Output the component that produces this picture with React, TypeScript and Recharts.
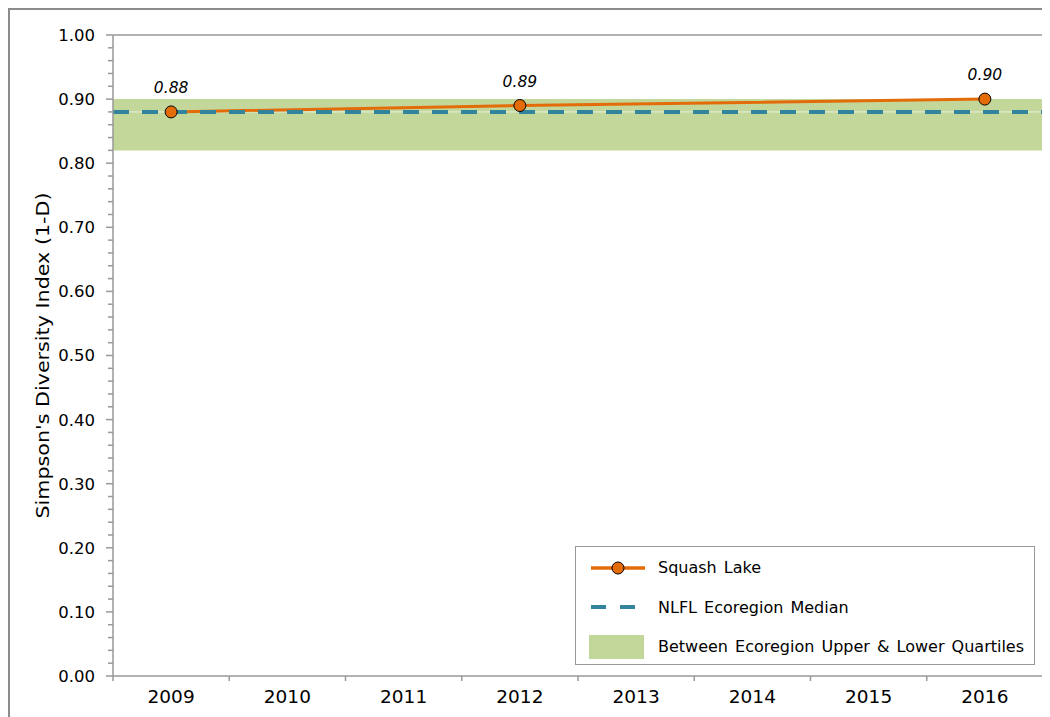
import React from 'react';
import {
  ComposedChart, Line, XAxis, YAxis, ReferenceArea, ReferenceLine, LabelList, Legend,
} from 'recharts';

const years = ['2009', '2010', '2011', '2012', '2013', '2014', '2015', '2016'];
const squashLake = [0.88, null, null, 0.89, null, null, null, 0.9];
const ecoMedian = 0.88;
const ecoLowerQuartile = 0.82;
const ecoUpperQuartile = 0.9;

const ORANGE = '#e36c09';
const TEAL = '#31849b';
const BAND = '#c4d79b';
const AXIS = '#999999';
const FONT = '"DejaVu Sans", Verdana, sans-serif';

const W = 1036;
const H = 710;
const MARGIN = { top: 25, right: 3, bottom: 4, left: 28 };
const Y_AXIS_W = 75;
const PLOT_W = W - MARGIN.left - MARGIN.right - Y_AXIS_W;
const BAND_W = PLOT_W / years.length;
const Y_TICK_SIZE = 7;
const Y_TICK_MARGIN = 11;

const data = years.map((year, i) => ({ x: i + 0.5, year, squash: squashLake[i] }));
const yAllTicks = Array.from({ length: 51 }, (_, i) => Math.round(i * 2) / 100);
const xTicks = years.map((_, i) => i).concat([years.length]);

const YTick = (props: any) => {
  const { x, y, payload } = props;
  const axisX = x + Y_TICK_SIZE + Y_TICK_MARGIN;
  const v = payload.value;
  const major = Math.round(v * 100) % 10 === 0;
  return (
    <g>
      <line x1={axisX - (major ? 7 : 5)} x2={axisX} y1={y} y2={y} stroke={AXIS} strokeWidth={1.5} />
      {major && (
        <text x={x} y={y} dy="0.36em" textAnchor="end" fontSize={16.5} fill="#000" fontFamily={FONT}>
          {v.toFixed(2)}
        </text>
      )}
    </g>
  );
};

const XTick = (props: any) => {
  const { x, y, index } = props;
  if (index >= years.length) return <g />;
  return (
    <text x={x + BAND_W / 2} y={y} dy="0.75em" textAnchor="middle" fontSize={18.5} fill="#000" fontFamily={FONT}>
      {years[index]}
    </text>
  );
};

const YLabel = (props: any) => {
  const { viewBox } = props;
  const cy = viewBox.y + viewBox.height / 2;
  const cx = 33;
  return (
    <text
      x={cx}
      y={cy}
      transform={`rotate(-90, ${cx}, ${cy})`}
      textAnchor="middle"
      dy="0.36em"
      fontSize={18}
      textLength={326}
      lengthAdjust="spacingAndGlyphs"
      fill="#000"
      fontFamily={FONT}
    >
      Simpson's Diversity Index (1-D)
    </text>
  );
};

const LegendBox = () => (
  <div
    style={{
      border: `1.5px solid ${AXIS}`,
      background: '#fff',
      width: 460,
      height: 119,
      boxSizing: 'border-box',
      fontFamily: FONT,
      fontSize: 16,
      color: '#000',
      padding: '1px 0 0 0',
    }}
  >
    {[
      { name: 'Squash Lake', kind: 'line' },
      { name: 'NLFL Ecoregion Median', kind: 'dash' },
      { name: 'Between Ecoregion Upper & Lower Quartiles', kind: 'band' },
    ].map((item) => (
      <div key={item.name} style={{ display: 'flex', alignItems: 'center', height: 39.5 }}>
        <svg width={82} height={24} style={{ flex: 'none' }}>
          {item.kind === 'line' && (
            <g>
              <line x1={15} x2={69} y1={12} y2={12} stroke={ORANGE} strokeWidth={3.5} />
              <circle cx={42} cy={12} r={6} fill={ORANGE} stroke="#000" strokeWidth={1} />
            </g>
          )}
          {item.kind === 'dash' && (
            <line x1={15} x2={65} y1={12} y2={12} stroke={TEAL} strokeWidth={4} strokeDasharray="15 14" />
          )}
          {item.kind === 'band' && <rect x={13} y={0} width={55} height={24} fill={BAND} />}
        </svg>
        <span style={{ whiteSpace: 'nowrap', wordSpacing: 2 }}>{item.name}</span>
      </div>
    ))}
  </div>
);

const App: React.FC = () => {
  return (
    <div style={{ width: W, height: H, border: '2px solid #8c8c8c', background: '#fff' }}>
      <ComposedChart width={W} height={H} data={data} margin={MARGIN}>
        <XAxis
          dataKey="x"
          type="number"
          domain={[0, years.length]}
          ticks={xTicks}
          interval={0}
          tick={<XTick />}
          tickSize={5}
          tickMargin={8}
          height={40}
          stroke={AXIS}
          strokeWidth={1.5}
        />
        <YAxis
          type="number"
          domain={[0, 1]}
          ticks={yAllTicks}
          interval={0}
          tick={<YTick />}
          tickLine={false}
          tickSize={Y_TICK_SIZE}
          tickMargin={Y_TICK_MARGIN}
          width={Y_AXIS_W}
          stroke={AXIS}
          strokeWidth={1.5}
          label={<YLabel />}
        />
        <ReferenceArea y1={ecoLowerQuartile} y2={ecoUpperQuartile} fill={BAND} fillOpacity={1} stroke="none" />
        <ReferenceLine y={1} stroke={AXIS} strokeWidth={1.5} />
        <ReferenceLine x={years.length} stroke={AXIS} strokeWidth={1.5} />
        <ReferenceLine y={ecoMedian} stroke="#e8efdc" strokeWidth={1} />
        <Line
          dataKey="squash"
          type="monotone"
          connectNulls
          stroke={ORANGE}
          strokeWidth={3}
          dot={{ r: 6, fill: ORANGE, stroke: '#000', strokeWidth: 1 }}
          isAnimationActive={false}
        >
          <LabelList
            dataKey="squash"
            position="top"
            offset={19}
            formatter={(v: any) => (v == null ? '' : Number(v).toFixed(2))}
            style={{ fontSize: 15.5, fontStyle: 'italic', fill: '#000', fontFamily: FONT }}
          />
        </Line>
        <ReferenceLine y={ecoMedian} stroke={TEAL} strokeWidth={4} strokeDasharray="16 13" />
        <Legend
          layout="vertical"
          align="center"
          verticalAlign="middle"
          content={<LegendBox />}
          wrapperStyle={{ left: 565, top: 536, width: 460, height: 119 }}
        />
      </ComposedChart>
    </div>
  );
};

export default App;
